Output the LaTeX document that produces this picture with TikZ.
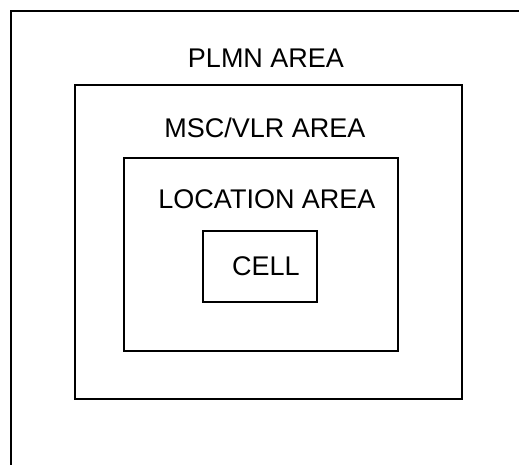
\documentclass[tikz,border=0pt]{standalone}
\usepackage{fontspec}
\setmainfont{Liberation Sans}
\begin{document}
\begin{tikzpicture}[x=1pt,y=-1pt,
  area/.style={draw=black,line width=2.2pt},
  lbl/.style={anchor=base,inner sep=0pt,font=\fontsize{27}{30}\selectfont}]
\useasboundingbox (0,0) rectangle (519,465);
% outer PLMN area (only left and top edges visible)
\draw[area] (11,465) -- (11,11) -- (519,11);
\node[lbl] (plmn) at (266,68) {PLMN AREA};
% MSC/VLR area
\draw[area] (75,85) rectangle (462,399);
\node[lbl] (msc) at (265,138) {MSC/VLR AREA};
% location area
\draw[area] (124,158) rectangle (398,351);
\node[lbl] (loc) at (267,208) {LOCATION AREA};
% cell
\draw[area] (203,231) rectangle (317,302);
\node[lbl] (cell) at (266,275) {CELL};
\end{tikzpicture}
\end{document}
